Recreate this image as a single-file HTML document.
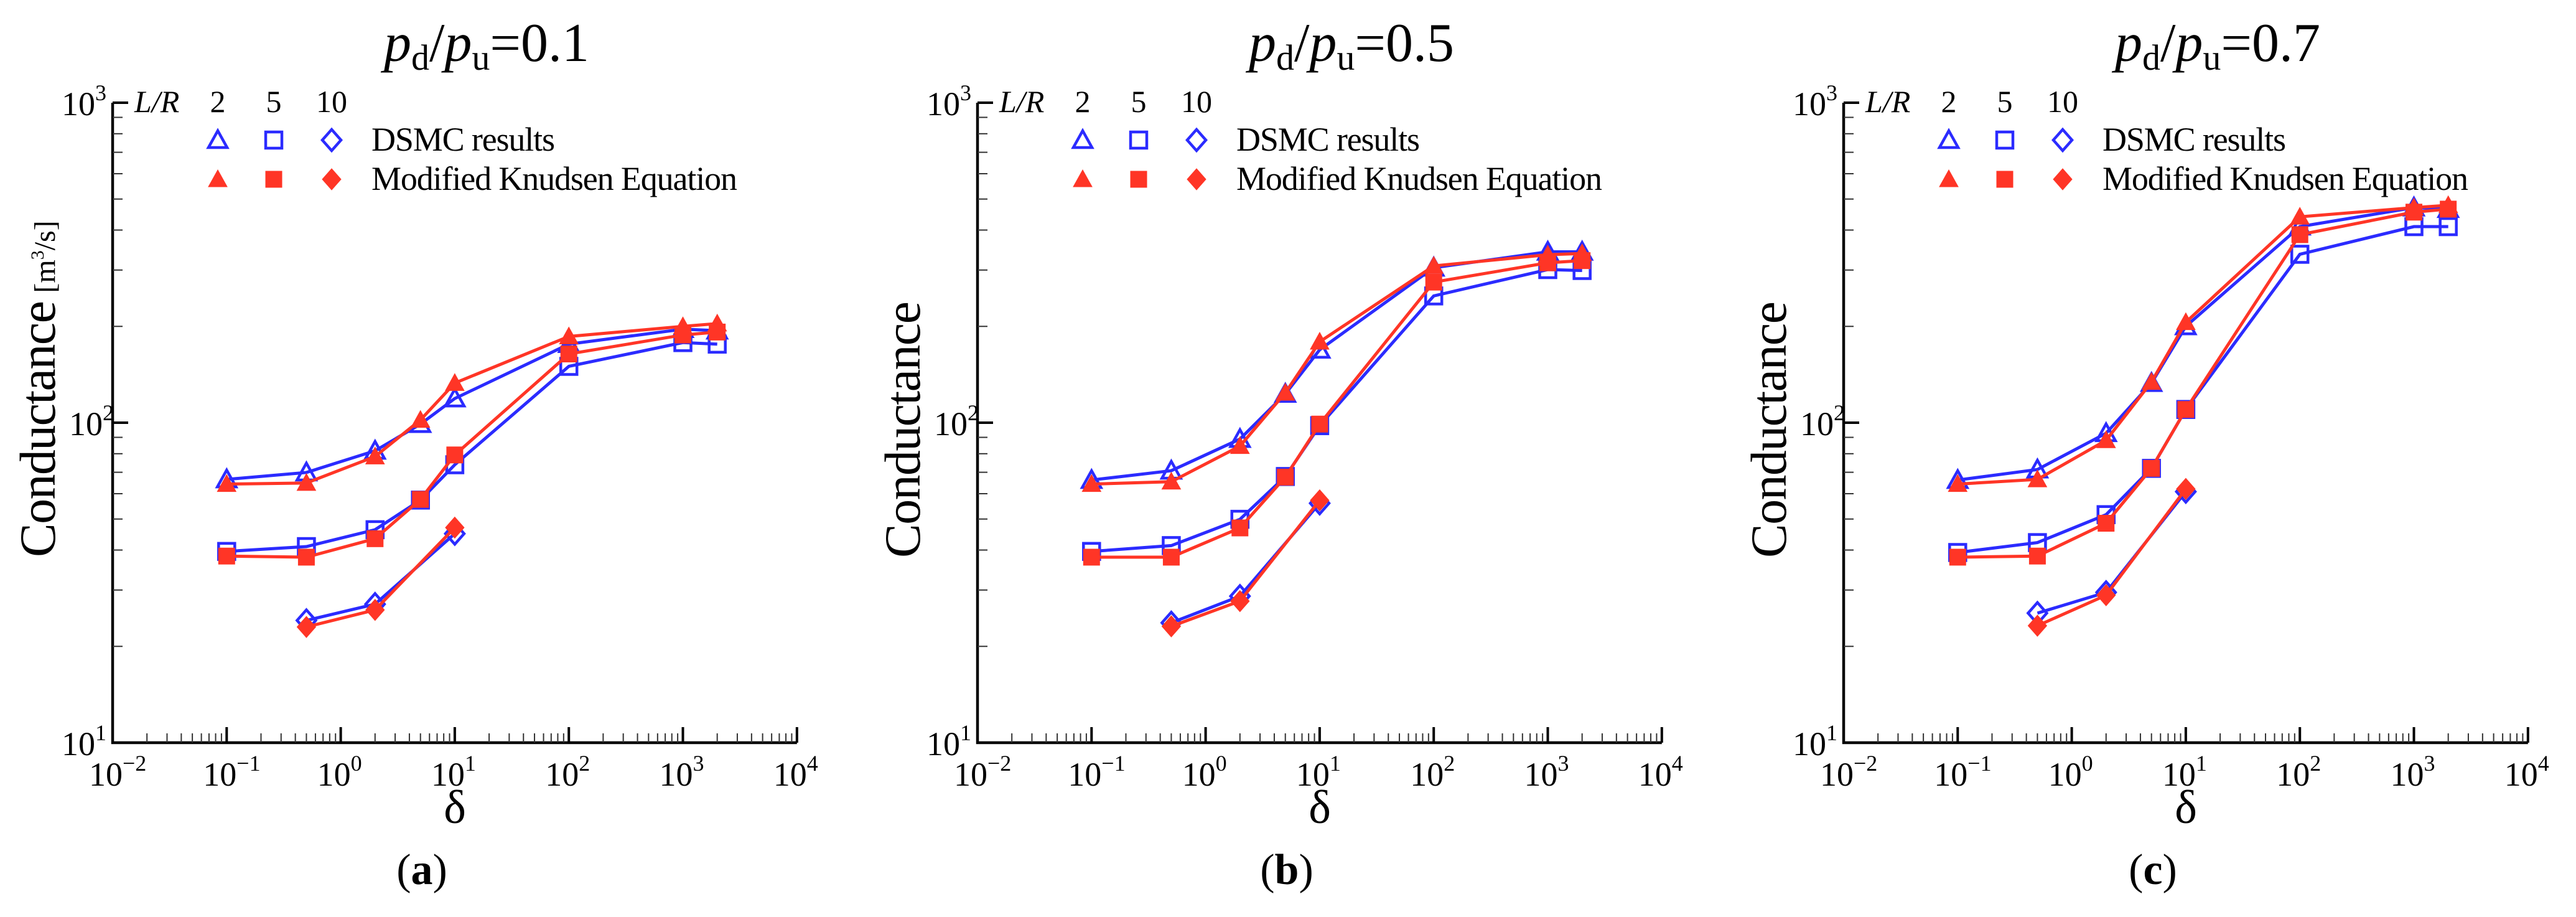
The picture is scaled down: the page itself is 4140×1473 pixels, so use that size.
<!DOCTYPE html>
<html><head><meta charset="utf-8"><style>
html,body{margin:0;padding:0;background:#fff;}
svg, svg text, svg tspan{font-family:"Liberation Serif","DejaVu Serif","Times New Roman",serif !important;}
</style></head><body>
<svg id="chart" width="4140" height="1468" viewBox="0 0 4140 1468" xmlns="http://www.w3.org/2000/svg" font-family="'Liberation Serif', 'DejaVu Serif', serif"></svg>
<script>
const deltaFull = [0.1, 0.5, 2, 5, 10, 100, 1000, 2000];
const deltaShort = [0.5, 2, 10];
const xTickExps = [-2, -1, 0, 1, 2, 3, 4];
const yTickExps = [1, 2, 3];
const panelTitles = ['0.1', '0.5', '0.7'];
const panelLetters = ['a', 'b', 'c'];

const a_dsmc2 = [66.5, 69.9, 81.7, 99, 119, 176, 196, 194];
const a_kn2   = [64.3, 64.8, 78.4, 102, 133, 186, 200, 204];
const a_dsmc5 = [39.6, 41, 46.3, 57.3, 73.9, 150, 178, 176];
const a_kn5   = [38.3, 38, 43.4, 57.6, 79.3, 164, 188, 192];
const a_dsmc10 = [24.1, 27.1, 45.0];
const a_kn10   = [23.0, 26.0, 47.0];

const b_dsmc2 = [66.2, 70.8, 88.9, 123, 169, 305, 342, 342];
const b_kn2   = [64.3, 65.4, 84.5, 124, 179, 309, 335, 338];
const b_dsmc5 = [39.6, 41.3, 49.9, 67.9, 97.9, 249, 301, 299];
const b_kn5   = [38.0, 38.0, 46.9, 67.6, 99, 275, 316, 321];
const b_dsmc10 = [23.7, 28.7, 56.0];
const b_kn10   = [23.1, 27.7, 57.2];

const c_dsmc2 = [66.2, 71.4, 92.7, 133, 200, 410, 470, 465];
const c_kn2   = [64.3, 66.5, 88.1, 134, 206, 440, 470, 478];
const c_dsmc5 = [39.3, 42.2, 51.6, 72.0, 110, 336, 410, 410];
const c_kn5   = [38.0, 38.3, 48.5, 72.0, 110, 387, 455, 465];
const c_dsmc10 = [25.4, 29.5, 60.9];
const c_kn10   = [23.2, 28.9, 62.1];

const panelData = [
  [a_dsmc2, a_kn2, a_dsmc5, a_kn5, a_dsmc10, a_kn10],
  [b_dsmc2, b_kn2, b_dsmc5, b_kn5, b_dsmc10, b_kn10],
  [c_dsmc2, c_kn2, c_dsmc5, c_kn5, c_dsmc10, c_kn10]
];

const NS = 'http://www.w3.org/2000/svg';
const svg = document.getElementById('chart');
const offsets = [0, 1390, 2782];
const BLUE = '#2b2bff', RED = '#ff3526';
const FONT = "'Liberation Serif', 'DejaVu Serif', serif";

function mk(tag, attrs, parent) {
  const e = document.createElementNS(NS, tag);
  for (const k in attrs) e.setAttribute(k, attrs[k]);
  parent.appendChild(e);
  return e;
}

function marker(g, shape, cx, cy, color, filled) {
  let e;
  const st = filled ? {fill: color, stroke: color, 'stroke-width': 1} : {fill: 'none', stroke: color, 'stroke-width': 4.5};
  if (shape === 'tri') {
    e = mk('polygon', Object.assign({points: `${cx},${cy-15} ${cx+15},${cy+12} ${cx-15},${cy+12}`}, st), g);
  } else if (shape === 'sq') {
    e = mk('rect', Object.assign({x: cx-13, y: cy-13, width: 26, height: 26}, st), g);
  } else {
    e = mk('polygon', Object.assign({points: `${cx},${cy-17} ${cx+15},${cy} ${cx},${cy+17} ${cx-15},${cy}`}, st), g);
  }
  return e;
}

panelTitles.forEach((title, p) => {
  const ox = offsets[p];
  const X0 = ox + 181, DX = 183.3, Y1 = 1193, DY = 514;
  const xs = v => X0 + (Math.log10(v) + 2) * DX;
  const ys = v => Y1 - (Math.log10(v) - 1) * DY;
  const g = mk('g', {'font-family': FONT}, svg);
  
  

  const ax = mk('path', {d: `M${X0},${ys(1000)} V${Y1} H${xs(10000)}`, fill: 'none', stroke: '#000', 'stroke-width': 4.5}, g);
  
  

  for (let e = -2; e <= 4; e++) {
    const xv = xs(Math.pow(10, e));
    mk('line', {x1: xv, x2: xv, y1: Y1, y2: Y1 - 25, stroke: '#000', 'stroke-width': 4}, g);
    if (e < 4) for (let m = 2; m <= 9; m++) {
      const xm = xs(m * Math.pow(10, e));
      mk('line', {x1: xm, x2: xm, y1: Y1, y2: Y1 - 15, stroke: '#333', 'stroke-width': 2}, g);
    }
  }
  for (let e = 1; e <= 3; e++) {
    const yv = ys(Math.pow(10, e));
    mk('line', {x1: X0, x2: X0 + 25, y1: yv, y2: yv, stroke: '#000', 'stroke-width': 4}, g);
    if (e < 3) for (let m = 2; m <= 9; m++) {
      const ym = ys(m * Math.pow(10, e));
      mk('line', {x1: X0, x2: X0 + 16, y1: ym, y2: ym, stroke: '#333', 'stroke-width': 2}, g);
    }
  }
  xTickExps.forEach(e => {
    const t = mk('text', {x: xs(Math.pow(10, e)) - 38, y: 1262, 'font-size': 54, 'font-family': FONT}, g);
    
    
    t.appendChild(document.createTextNode('10'));
    const s = mk('tspan', {dy: -24, 'font-size': 36}, t);
    s.textContent = e < 0 ? '\u2212' + (-e) : String(e);
  });
  yTickExps.forEach(e => {
    const xl = e === 2 ? ox + 111 : ox + 99;
    const t = mk('text', {x: xl, y: ys(Math.pow(10, e)) + 20, 'font-size': 54, 'font-family': FONT}, g);
    
    
    t.appendChild(document.createTextNode('10'));
    const s = mk('tspan', {dy: -24, 'font-size': 36}, t);
    s.textContent = String(e);
  });

  const tt = mk('text', {x: ox + 782, y: 98, 'font-size': 88, 'text-anchor': 'middle', 'font-family': FONT}, g);
  
  
  tt.innerHTML = `<tspan font-style="italic">p</tspan><tspan font-size="58" dy="14">d</tspan><tspan dy="-14">/</tspan><tspan font-style="italic">p</tspan><tspan font-size="58" dy="14">u</tspan><tspan dy="-14">=${title}</tspan>`;

  const yt = mk('text', {x: 0, y: 0, 'font-size': 82, 'text-anchor': 'middle', 'font-family': FONT, transform: `translate(${ox + 88},690) rotate(-90)`}, g);
  
  
  if (p === 0) {
    yt.setAttribute('transform', `translate(${ox + 88},570) rotate(-90)`);
    yt.setAttribute('text-anchor', 'start');
    yt.setAttribute('x', -325);
    yt.innerHTML = `<tspan textLength="412">Conductance</tspan><tspan font-size="48" dx="14">[m</tspan><tspan font-size="30" dy="-18">3</tspan><tspan font-size="48" dy="18">/s]</tspan>`;
  } else {
    yt.setAttribute('textLength', 412);
    yt.textContent = 'Conductance';
  }

  const xt = mk('text', {x: ox + 731, y: 1322, 'font-size': 76, 'text-anchor': 'middle', 'font-family': FONT}, g);
  
  
  xt.textContent = 'δ';

  const pl = mk('text', {x: ox + 678, y: 1420, 'font-size': 70, 'text-anchor': 'middle', 'font-family': FONT}, g);
  
  
  pl.innerHTML = `(<tspan font-weight="bold">${panelLetters[p]}</tspan>)`;

  const lg = mk('g', {'font-family': FONT}, g);
  
  
  const lr = mk('text', {x: ox + 216, y: 180, 'font-size': 50, 'font-style': 'italic'}, lg);
  lr.textContent = 'L/R';
  const lx = [350, 440, 533], lab = ['2', '5', '10'], shp = ['tri', 'sq', 'dia'];
  lx.forEach((xx, i) => {
    const t = mk('text', {x: ox + xx, y: 180, 'font-size': 50, 'text-anchor': 'middle'}, lg);
    t.textContent = lab[i];
    marker(lg, shp[i], ox + xx, 225, BLUE, false);
    marker(lg, shp[i], ox + xx, 288, RED, true);
  });
  const l1 = mk('text', {x: ox + 597, y: 242, 'font-size': 54, textLength: 295}, lg);
  
  
  l1.textContent = 'DSMC results';
  const l2 = mk('text', {x: ox + 597, y: 305, 'font-size': 54, textLength: 588}, lg);
  
  
  l2.textContent = 'Modified Knudsen Equation';

  const d = panelData[p];
  const specs = [
    [d[0], deltaFull, 'tri', BLUE, false, 'dsmc-lr2'],
    [d[2], deltaFull, 'sq', BLUE, false, 'dsmc-lr5'],
    [d[4], deltaShort, 'dia', BLUE, false, 'dsmc-lr10'],
    [d[1], deltaFull, 'tri', RED, true, 'knudsen-lr2'],
    [d[3], deltaFull, 'sq', RED, true, 'knudsen-lr5'],
    [d[5], deltaShort, 'dia', RED, true, 'knudsen-lr10']
  ];
  specs.forEach(([vals, xsArr, shape, col, filled, nm]) => {
    const sg = mk('g', {}, g);
    
    
    const pts = vals.map((v, i) => xs(xsArr[i]) + ',' + ys(v)).join(' ');
    const pl2 = mk('polyline', {points: pts, fill: 'none', stroke: col, 'stroke-width': 5}, sg);
    
    
    vals.forEach((v, i) => {
      const m = marker(sg, shape, xs(xsArr[i]), ys(v), col, filled);
      
      
    });
  });
});
</script>
</body></html>
